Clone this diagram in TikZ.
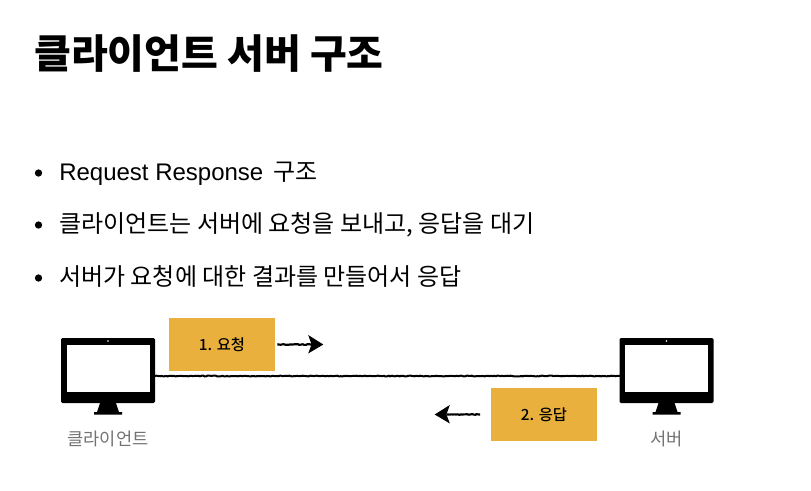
\documentclass[tikz,border=0pt]{standalone}
\usepackage{fontspec}
\setmainfont{Liberation Sans}
\newfontfamily\kofont{Noto Sans CJK KR}
\newfontfamily\kobold{Noto Sans CJK KR Medium}
\usetikzlibrary{arrows.meta,positioning,decorations.pathmorphing}
\definecolor{boxgold}{RGB}{234,176,62}
\definecolor{labelgray}{RGB}{115,115,115}
\tikzset{
    % text lines
    titletext/.style={anchor=base west, inner sep=0pt, font=\kofont\bfseries\fontsize{30}{36}\selectfont},
    bodytext/.style={anchor=base west, inner sep=0pt, font=\fontsize{18}{22}\selectfont},
    bulletdot/.style={circle, fill=black, minimum size=5.5pt, inner sep=0pt},
    % monitors
    screenbox/.style={draw=black, fill=white, line width=0pt, minimum width=84*0.75pt, minimum height=48*0.75pt, inner sep=0pt},
    monitorlabel/.style={text=labelgray, inner sep=0pt, font=\kofont\fontsize{13.2}{16}\selectfont},
    % yellow boxes
    stepbox/.style={fill=boxgold, minimum width=106*0.75pt, minimum height=53*0.75pt, inner sep=0pt, font=\kobold\fontsize{11.5}{14}\selectfont},
    % rough hand drawn lines
    roughline/.style={black, line width=1.5pt, decorate, decoration={random steps, segment length=1.2pt, amplitude=0.3pt}},
    roughshaft/.style={black, line width=1.6pt, decorate, decoration={random steps, segment length=1.2pt, amplitude=0.3pt}},
    roughhead/.style={fill=black, draw=black, line width=0.6pt},
}
\begin{document}
\begin{tikzpicture}[x=0.75pt,y=-0.75pt]
  \useasboundingbox (0,0) rectangle (811,490);

  % --- title and bullets ---
  \node[titletext] (title) at (34,68) {클라이언트 서버 구조};
  \node[bulletdot] (dotA) at (38.5,173) {};
  \node[bodytext] (lineA) at (59,180) {Request Response\hspace{2.5pt} {\kofont 구조}};
  \node[bulletdot] (dotB) at (38.5,225) {};
  \node[bodytext] (lineB) at (59,232) {\kofont 클라이언트는 서버에 요청을 보내고, 응답을 대기};
  \node[bulletdot] (dotC) at (38.5,278) {};
  \node[bodytext] (lineC) at (59,285) {\kofont 서버가 요청에 대한 결과를 만들어서 응답};

  % --- the two monitors ---
  \foreach \x/\name/\txt in {108/client/클라이언트,666.5/server/서버}{
    \fill[black,rounded corners=1pt] (\x-47,338) rectangle (\x+47,403);
    \node[screenbox] (\name) at (\x,368) {};
    \fill[white] (\x,341) circle (0.6pt);
    \fill[black] (\x-8,403) -- (\x+8,403) -- (\x+11,412) -- (\x+14,412) -- (\x+14,414.5)
                 -- (\x-14,414.5) -- (\x-14,412) -- (\x-11,412) -- cycle;
    \node[monitorlabel] (\name label) at (\x,438.5) {\txt};
  }

  % --- connection between them ---
  \coordinate (clientport) at (155,376);
  \coordinate (serverport) at (620,376);
  \draw[roughline] (clientport) -- (serverport);

  % request
  \node[stepbox] (request) at (222,344.5) {1. 요청};
  \coordinate (requestend) at (312,344.5);
  \draw[roughshaft] ([xshift=1.5pt]request.east) -- (requestend);
  \fill[roughhead] (309,336) -- (322.5,344.5) -- (309,352.5) -- (312,344.5) -- cycle;

  % response
  \node[stepbox] (response) at (544,414.5) {2. 응답};
  \coordinate (responseend) at (447,414.5);
  \draw[roughshaft] ([xshift=-8pt]response.west) -- (responseend);
  \fill[roughhead] (449,406) -- (435.5,414.5) -- (449,422.5) -- (446,414.5) -- cycle;
\end{tikzpicture}
\end{document}
